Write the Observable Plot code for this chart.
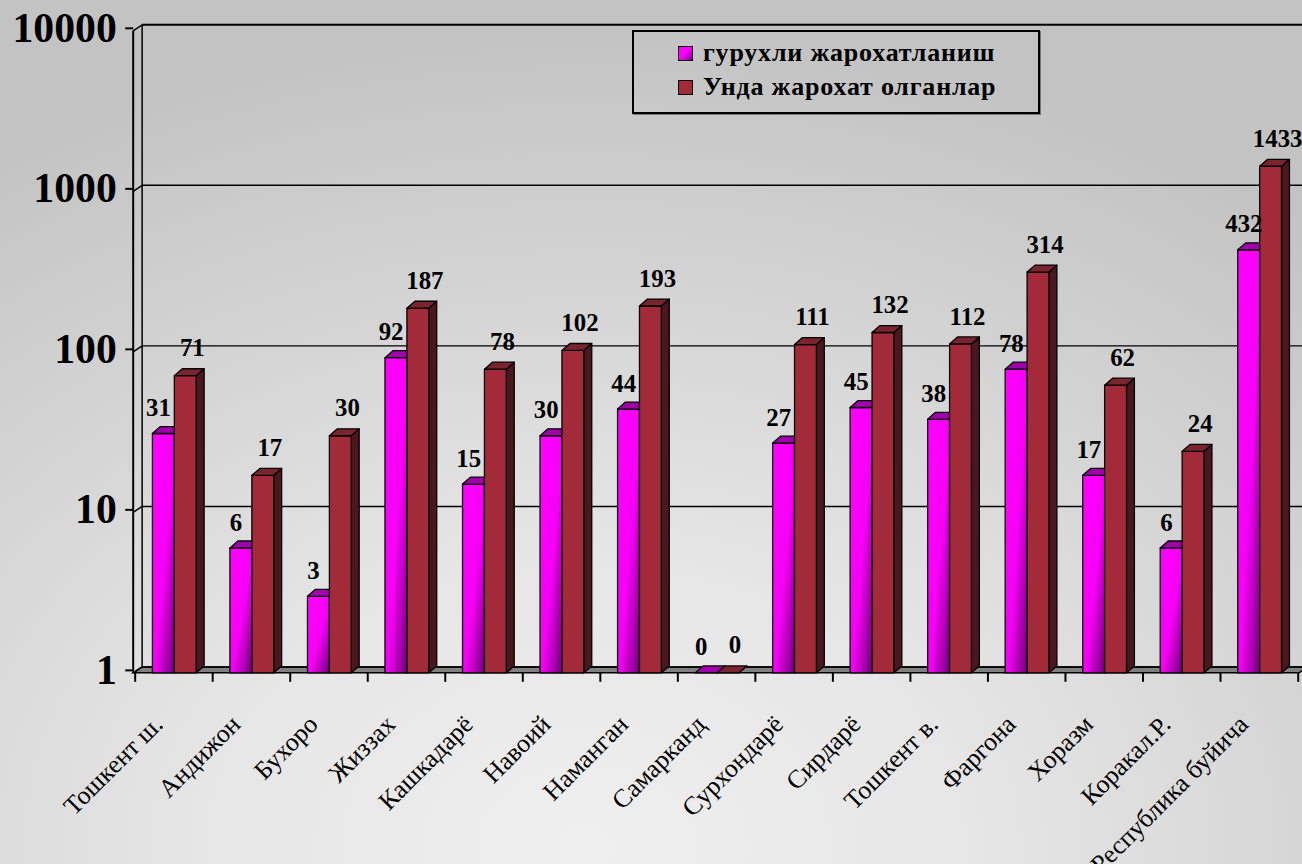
<!DOCTYPE html>
<html>
<head>
<meta charset="utf-8">
<script src="https://cdn.jsdelivr.net/npm/d3@7"></script>
<script src="https://cdn.jsdelivr.net/npm/@observablehq/plot@0.6"></script>
<style>
  html, body { margin: 0; padding: 0; width: 1302px; height: 864px; overflow: hidden; }
  body {
    background: radial-gradient(ellipse 85% 95% at 45% 98%, #efefef 0%, #e6e6e6 35%, #d3d3d3 70%, #c3c3c3 100%);
    font-family: "Liberation Serif", serif;
  }
  #chart { position: absolute; left: 0; top: 0; }
  #legend {
    position: absolute; left: 632px; top: 30px; width: 360px; height: 76px;
    border: 2px solid #000; box-shadow: 1px 1px 0 #777;
    padding: 4px 0 0 44px; box-sizing: content-box;
    font-weight: bold; font-size: 26px; letter-spacing: 0.8px; color: #000;
  }
  #legend .item { height: 34px; line-height: 34px; white-space: nowrap; }
  #legend .sw { display: inline-block; width: 13px; height: 13px; border: 1px solid #000; margin-right: 10px; vertical-align: 0px; }
</style>
</head>
<body>
<div id="chart"></div>
<div id="legend"></div>
<script>
const categories = ["Тошкент ш.", "Андижон", "Бухоро", "Жиззах", "Кашкадарё", "Навоий", "Наманган", "Самарканд", "Сурхондарё", "Сирдарё", "Тошкент в.", "Фаргона", "Хоразм", "Коракал.Р.", "Республика буйича"];
const groupInjuries = [31, 6, 3, 92, 15, 30, 44, 0, 27, 45, 38, 78, 17, 6, 432];
const injuredPeople = [71, 17, 30, 187, 78, 102, 193, 0, 111, 132, 112, 314, 62, 24, 1433];
const seriesNames = ["гурухли жарохатланиш", "Унда жарохат олганлар"];
const yTicks = [1, 10, 100, 1000, 10000];

const rows = [];
categories.forEach((c, i) => {
  rows.push({cat: c, s: 0, v: groupInjuries[i]});
  rows.push({cat: c, s: 1, v: injuredPeople[i]});
});

// layout / style constants
const SLOT = [[0.222, 0.504], [0.504, 0.785]];
const BAR_DEPTH = [8, -7];
const WALL_DEPTH = [9, -6];
const FRONT = ["url(#gradMag)", "#a32a38"];
const SIDE = ["#6a0070", "#4b161e"];
const TOP = ["#a000ac", "#7a2430"];

function bandwidthOf(dims) {
  return (dims.width - dims.marginLeft - dims.marginRight) / categories.length;
}

const walls = Plot.ruleY(yTicks, {
  y: d => d,
  render(index, scales, values, dims) {
    const g = d3.create("svg:g").attr("fill", "none").attr("stroke", "#000");
    const L = dims.marginLeft, R = dims.width - dims.marginRight;
    const [wx, wy] = WALL_DEPTH;
    const yb = scales.y(1), ytop = scales.y(10000);
    g.append("polygon")
      .attr("points", [[L, yb], [R, yb], [R + wx, yb + wy], [L + wx, yb + wy]].join(" "))
      .attr("fill", "#808080").attr("stroke-width", 1.5);
    for (const i of index) {
      const y = values.y[i];
      g.append("line").attr("x1", L + wx).attr("x2", R + wx + 20).attr("y1", y + wy).attr("y2", y + wy)
        .attr("stroke-width", i === index[index.length - 1] ? 2 : 1.5);
      g.append("line").attr("x1", L).attr("x2", L + wx).attr("y1", y).attr("y2", y + wy).attr("stroke-width", 1.5);
    }
    g.append("line").attr("x1", L).attr("x2", L).attr("y1", yb).attr("y2", ytop).attr("stroke-width", 2);
    g.append("line").attr("x1", L + wx).attr("x2", L + wx).attr("y1", yb + wy).attr("y2", ytop + wy).attr("stroke-width", 1.5);
    const bw = bandwidthOf(dims);
    for (let k = 0; k <= categories.length; k++) {
      const x = k < categories.length ? scales.x(categories[k]) : scales.x(categories[k - 1]) + bw;
      g.append("line").attr("x1", x).attr("x2", x).attr("y1", yb).attr("y2", yb + 9).attr("stroke-width", 2);
    }
    return g.node();
  }
});

const bars = Plot.barY(rows, {
  x: "cat", y1: () => 1, y2: d => Math.max(d.v, 1),
  render(index, scales, values, dims) {
    const g = d3.create("svg:g");
    const defs = g.append("defs");
    const lg = defs.append("linearGradient").attr("id", "gradMag")
      .attr("x1", 0).attr("y1", 0).attr("x2", 1).attr("y2", 1);
    lg.append("stop").attr("offset", "0").attr("stop-color", "#ff00ff");
    lg.append("stop").attr("offset", "0.55").attr("stop-color", "#f600f6");
    lg.append("stop").attr("offset", "1").attr("stop-color", "#6e0078");
    const bw = bandwidthOf(dims);
    const [dx, dy] = BAR_DEPTH;
    for (const i of index) {
      const s = rows[i].s;
      const x0 = values.x[i] + SLOT[s][0] * bw, x1 = values.x[i] + SLOT[s][1] * bw;
      const yt = values.y2[i], yb = values.y1[i];
      const st = (sel) => sel.attr("stroke", "#000").attr("stroke-width", 1.3).attr("stroke-linejoin", "round");
      st(g.append("polygon").attr("points", [[x1, yb], [x1 + dx, yb + dy], [x1 + dx, yt + dy], [x1, yt]].join(" ")).attr("fill", SIDE[s]));
      st(g.append("rect").attr("x", x0).attr("y", yt).attr("width", x1 - x0).attr("height", Math.max(0, yb - yt)).attr("fill", FRONT[s]));
      st(g.append("polygon").attr("points", [[x0, yt], [x1, yt], [x1 + dx, yt + dy], [x0 + dx, yt + dy]].join(" ")).attr("fill", TOP[s]));
    }
    return g.node();
  }
});

const chart = Plot.plot({
  width: 1310,
  height: 864,
  marginLeft: 134,
  marginRight: 3,
  marginTop: 31,
  marginBottom: 187,
  style: {fontFamily: "'Liberation Serif', serif", background: "transparent", overflow: "visible", color: "#000"},
  x: {type: "band", domain: categories, padding: 0, label: null},
  y: {type: "log", domain: [1, 10000], label: null},
  marks: [
    walls,
    bars,
    Plot.text(rows.filter(d => d.s === 0), {
      x: "cat", y: d => Math.max(d.v, 1), text: d => String(d.v),
      dx: -16, dy: -26, fontSize: 25, fontWeight: "bold", fill: "#000"
    }),
    Plot.text(rows.filter(d => d.s === 1), {
      x: "cat", y: d => Math.max(d.v, 1), text: d => String(d.v),
      dx: 18, dy: -28, fontSize: 25, fontWeight: "bold", fill: "#000"
    }),
    Plot.axisY({ticks: yTicks, tickFormat: d3.format("d"), tickSize: 8, tickPadding: 9, fontSize: 42, fontWeight: "bold", strokeWidth: 2, dy: -3, label: null}),
    Plot.axisX({tickSize: 0, tickRotate: -45, tickPadding: 47, fontSize: 26, dx: -16, label: null})
  ]
});
document.getElementById("chart").appendChild(chart);

const legend = document.getElementById("legend");
const swatches = ["linear-gradient(135deg, #ff00ff 45%, #7a0085)", "#a32a38"];
seriesNames.forEach((name, i) => {
  const item = document.createElement("div");
  item.className = "item";
  const sw = document.createElement("span");
  sw.className = "sw";
  sw.style.background = swatches[i];
  item.appendChild(sw);
  item.appendChild(document.createTextNode(name));
  legend.appendChild(item);
});
</script>
</body>
</html>
